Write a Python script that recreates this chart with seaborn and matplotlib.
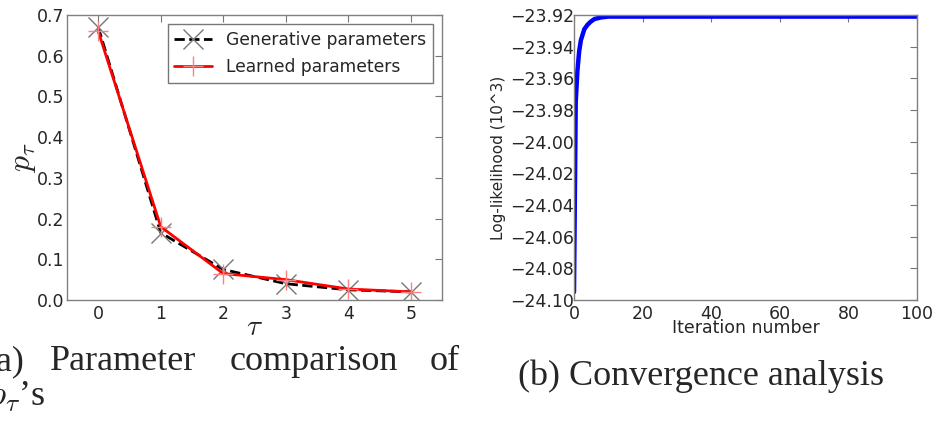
import numpy as np
import pandas as pd
import matplotlib
matplotlib.use('Agg')
import matplotlib.pyplot as plt
import seaborn as sns
from matplotlib.ticker import FuncFormatter

# left panel: p_tau values
tau = [0, 1, 2, 3, 4, 5]
p_generative = [0.670, 0.165, 0.075, 0.040, 0.025, 0.020]
p_learned = [0.660, 0.180, 0.065, 0.050, 0.027, 0.020]

# right panel: log-likelihood (x 10^3) per iteration
iteration = [0, 0.5, 1, 1.5, 2, 3, 4, 5, 6, 8, 10, 20, 40, 60, 80, 100]
loglik = [-24.095, -23.975, -23.955, -23.943, -23.936, -23.929, -23.926,
          -23.924, -23.9225, -23.9215, -23.921, -23.921, -23.921, -23.921,
          -23.921, -23.921]

sns.set_style("white")
plt.rcParams['font.family'] = ['DejaVu Sans']
plt.rcParams['mathtext.fontset'] = 'cm'

W, H = 942, 424
fig = plt.figure(figsize=(W / 100, H / 100), dpi=100)
ax1 = fig.add_axes([67 / W, 1 - 300 / H, 375 / W, 285 / H])
ax2 = fig.add_axes([574 / W, 1 - 300 / H, 343 / W, 285 / H])

df_gen = pd.DataFrame({'tau': tau, 'p': p_generative})
df_lrn = pd.DataFrame({'tau': tau, 'p': p_learned})
sns.lineplot(data=df_gen, x='tau', y='p', ax=ax1, color='black', lw=2,
             linestyle='--', marker='x', markersize=15, mew=1,
             mec='#777777', label='Generative parameters')
sns.lineplot(data=df_lrn, x='tau', y='p', ax=ax1, color='red', lw=2,
             marker='+', markersize=15, mew=1, mec='#ff8080',
             label='Learned parameters')
ax1.set_xlim(-0.5, 5.5)
ax1.set_ylim(0, 0.7)
ax1.set_xticks(tau)
ax1.set_yticks(np.arange(0, 0.71, 0.1))
ax1.yaxis.set_major_formatter(FuncFormatter(lambda v, p: f'{v:.1f}'))
ax1.set_xlabel(r'$\tau$', fontsize=21, labelpad=-7)
ax1.set_ylabel(r'$p_\tau$', fontsize=23, labelpad=-1)
leg = ax1.legend(loc='upper right', fontsize=12.3, frameon=True, fancybox=False,
                 handlelength=2.2, borderaxespad=0.55, labelspacing=0.5)
leg.get_frame().set_edgecolor('#555555')
leg.get_frame().set_linewidth(1)

df_ll = pd.DataFrame({'it': iteration, 'll': loglik})
sns.lineplot(data=df_ll, x='it', y='ll', ax=ax2, color='blue', lw=3.2)
ax2.set_xlim(0, 100)
ax2.set_ylim(-24.10, -23.92)
ax2.set_xticks([0, 20, 40, 60, 80, 100])
ax2.set_yticks(np.linspace(-24.10, -23.92, 10))
ax2.yaxis.set_major_formatter(FuncFormatter(lambda v, p: f'{v:.2f}'.replace('-', '\u2212')))
ax2.set_xlabel('Iteration number', fontsize=12.5, labelpad=-3)
ax2.set_ylabel('Log-likelihood (10^3)', fontsize=11, labelpad=3)

for ax in (ax1, ax2):
    ax.tick_params(direction='in', top=True, right=True, length=5,
                   width=0.8, color='#777777', labelsize=12.5)
    ax.tick_params(axis='x', pad=3.5)
    for s in ax.spines.values():
        s.set_color('#808080')
        s.set_linewidth(1)
ax1.tick_params(axis='y', pad=2)
ax2.tick_params(axis='y', pad=0)

serif = ['Liberation Serif', 'DejaVu Serif']
cap = dict(fontsize=26, family=serif, va='baseline')
fig.text(24 / W, 1 - 370 / H, '(a)', ha='right', **cap)
fig.text(50 / W, 1 - 370 / H, 'Parameter', ha='left', **cap)
fig.text(230 / W, 1 - 370 / H, 'comparison', ha='left', **cap)
fig.text(430 / W, 1 - 370 / H, 'of', ha='left', **cap)
fig.text(46 / W, 1 - 405 / H, r'$p_\tau$' + '\u2019s', ha='right', **cap)
fig.text(518 / W, 1 - 385 / H, '(b) Convergence analysis', ha='left', **cap)

fig.savefig('out.png', dpi=100)
